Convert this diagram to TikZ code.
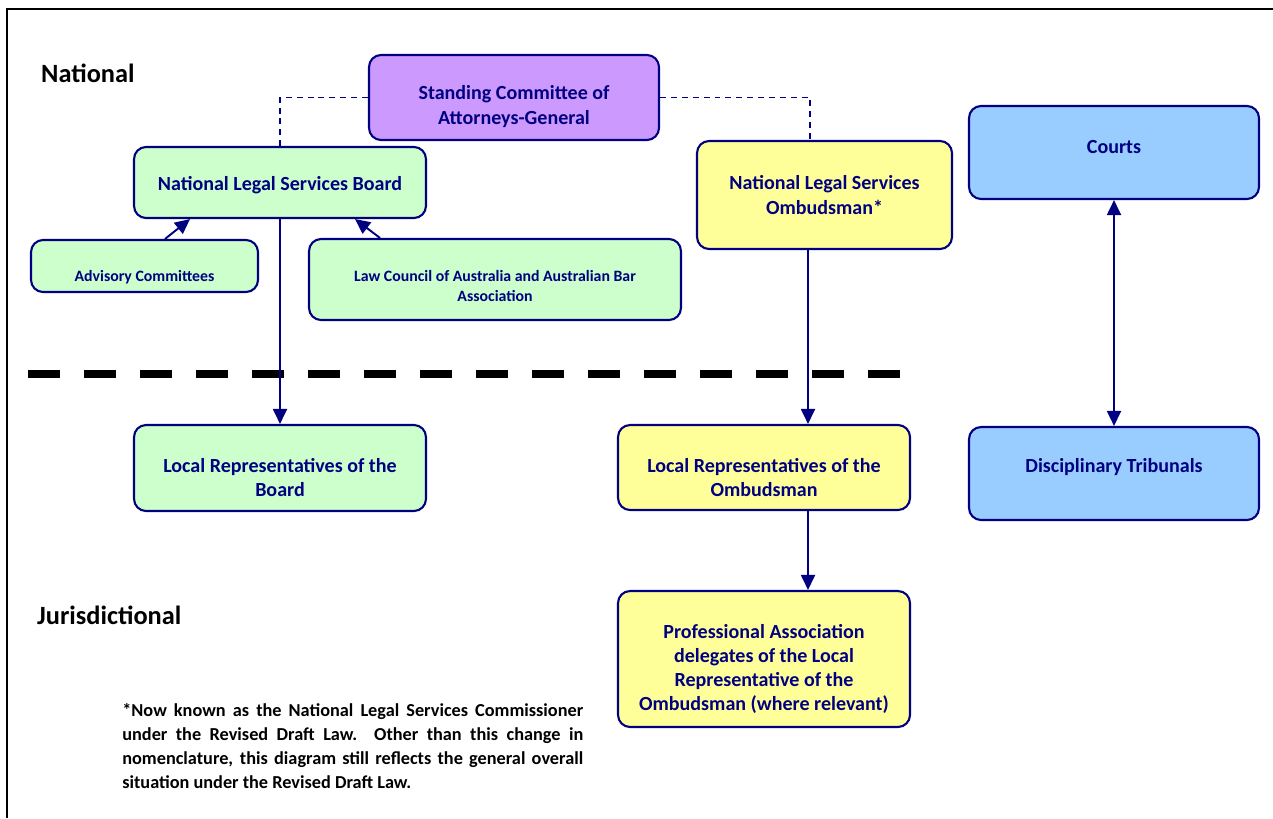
\documentclass[tikz,border=0pt]{standalone}
\usepackage{fontspec}
\setmainfont{Carlito}
\usetikzlibrary{arrows.meta}
\definecolor{navyline}{HTML}{000080}
\definecolor{scagfill}{HTML}{CC99FF}
\definecolor{boardfill}{HTML}{CCFFCC}
\definecolor{ombfill}{HTML}{FFFF99}
\definecolor{courtfill}{HTML}{99CCFF}
\hyphenpenalty=10000
\exhyphenpenalty=10000
\tolerance=9999
\begin{document}
\begin{tikzpicture}[x=0.02cm,y=-0.02cm,
  orgbox/.style={draw=navyline,line width=1.2pt,rounded corners=0.24cm,inner sep=0pt},
  boxtext/.style={text=navyline,font=\fontsize{11.4}{13.8}\selectfont\bfseries,align=center,inner sep=0pt},
  smalltext/.style={boxtext,font=\fontsize{9}{11.3}\selectfont\bfseries},
  link/.style={draw=navyline,line width=1.1pt,-{Triangle[length=0.3cm,width=0.28cm]}},
  twoway/.style={link,{Triangle[length=0.3cm,width=0.28cm]}-{Triangle[length=0.3cm,width=0.28cm]}},
  dotlink/.style={draw=navyline,line width=0.7pt,dash pattern=on 3.4pt off 2.8pt}]
  \useasboundingbox (0,0) rectangle (1273,818);
  % frame
  \draw[line width=1.2pt] (1273,9) -- (7,9) -- (7,818);

  % levels
  \node[anchor=west,font=\fontsize{15}{17}\selectfont\bfseries] (natl) at (35,73) {National};
  \node[anchor=west,font=\fontsize{15}{17}\selectfont\bfseries] (juris) at (31,615) {Jurisdictional};
  \draw[line width=4.5pt,dash pattern=on 0.64cm off 0.48cm] (28,374) -- (900,374);

  % national bodies
  \node[orgbox,fill=scagfill,minimum width=5.8cm,minimum height=1.7cm,
    label={[boxtext,name=scagt,yshift=-0.18cm]center:{Standing Committee of\\Attorneys-General}}] (scag) at (514,97.5) {};
  \node[orgbox,fill=boardfill,minimum width=5.84cm,minimum height=1.42cm,
    label={[boxtext,name=nlsbt,yshift=-0.06cm]center:{National Legal Services Board}}] (nlsb) at (280,182.5) {};
  \node[orgbox,fill=boardfill,minimum width=4.54cm,minimum height=1.04cm,
    label={[smalltext,name=advt,yshift=-0.22cm]center:{Advisory Committees}}] (adv) at (144.5,266) {};
  \node[orgbox,fill=boardfill,minimum width=7.44cm,minimum height=1.62cm,
    label={[smalltext,name=lcat,yshift=-0.13cm]center:{Law Council of Australia and Australian Bar\\Association}}] (lca) at (495,279.5) {};
  \node[orgbox,fill=ombfill,minimum width=5.1cm,minimum height=2.16cm,
    label={[boxtext,name=nlsot]center:{National Legal Services\\Ombudsman*}}] (nlso) at (824.5,195) {};
  \node[orgbox,fill=courtfill,minimum width=5.8cm,minimum height=1.86cm,
    label={[boxtext,name=courtst,yshift=0.1cm]center:{Courts}}] (courts) at (1114,152.5) {};

  % jurisdictional bodies
  \node[orgbox,fill=boardfill,minimum width=5.84cm,minimum height=1.72cm,
    label={[boxtext,name=lrbt,yshift=-0.19cm]center:{Local Representatives of the\\Board}}] (lrb) at (280,468) {};
  \node[orgbox,fill=ombfill,minimum width=5.84cm,minimum height=1.7cm,
    label={[boxtext,name=lrot,yshift=-0.2cm]center:{Local Representatives of the\\Ombudsman}}] (lro) at (764,467.5) {};
  \node[orgbox,fill=courtfill,minimum width=5.8cm,minimum height=1.86cm,
    label={[boxtext,name=dtt,yshift=0.12cm]center:{Disciplinary Tribunals}}] (dt) at (1114,473.5) {};
  \node[orgbox,fill=ombfill,minimum width=5.84cm,minimum height=2.72cm,
    label={[boxtext,name=pat,yshift=-0.2cm]center:{Professional Association\\delegates of the Local\\Representative of the\\Ombudsman (where relevant)}}] (pa) at (764,659) {};

  % connectors
  \coordinate (ombx) at (808,0);
  \draw[dotlink] (scag.west) -| (nlsb.north);
  \draw[dotlink] (scag.east) -| ([xshift=-0.29cm]nlso.north);
  \draw[link] (nlsb.south) -- (lrb.north);
  \draw[link] ([xshift=0.41cm]adv.north) -- ([xshift=-1.8cm]nlsb.south);
  \draw[link] ([xshift=-2.3cm]lca.north) -- ([xshift=1.5cm]nlsb.south);
  \draw[link] (nlso.south -| ombx) -- (lro.north -| ombx);
  \draw[link] (lro.south -| ombx) -- (pa.north -| ombx);
  \draw[twoway] (courts.south) -- (dt.north);

  % note
  \node[anchor=north west,inner sep=0pt,text width=9.22cm,align=justify,
    font=\fontsize{10.4}{13.6}\selectfont\bfseries] (note) at (122,703)
    {*Now known as the National Legal Services Commissioner\linebreak under the Revised Draft Law.\ \ Other than this change in\linebreak nomenclature, this diagram still reflects the general overall\linebreak situation under the Revised Draft Law.};
\end{tikzpicture}
\end{document}
